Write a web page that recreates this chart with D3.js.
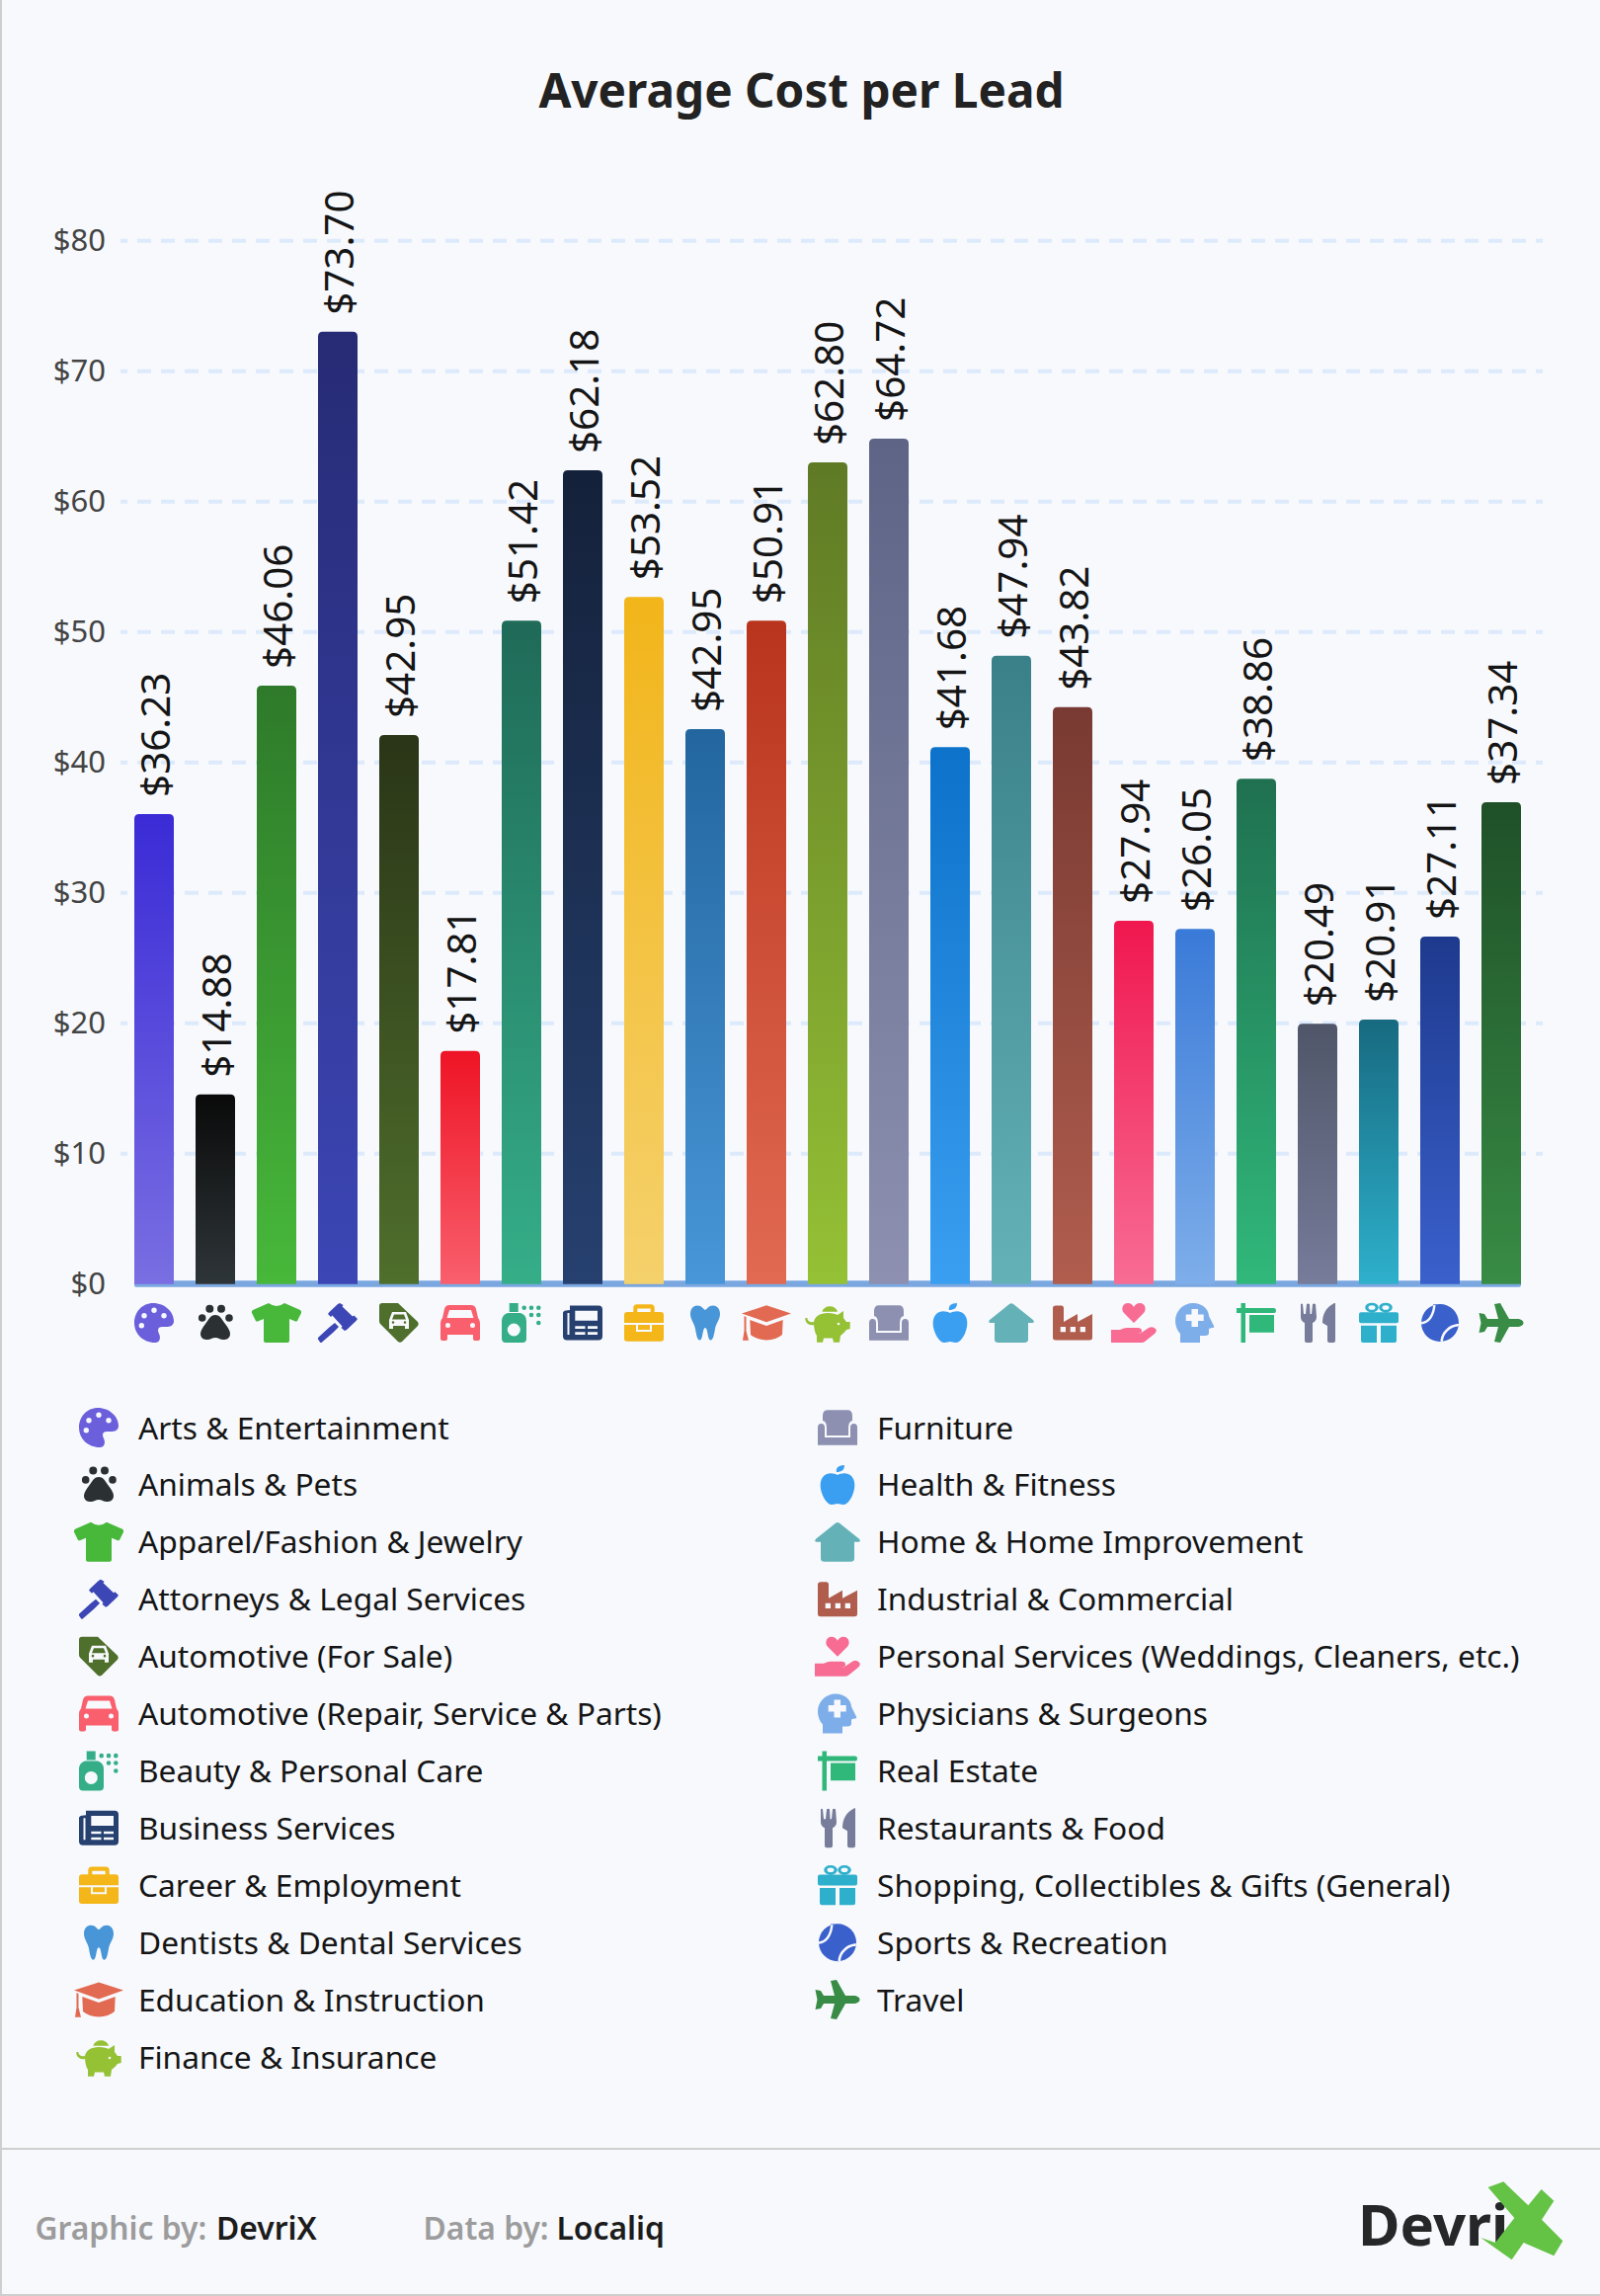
<!DOCTYPE html>
<html><head><meta charset="utf-8">
<script src="https://d3js.org/d3.v7.min.js"></script>
<style>html,body{margin:0;padding:0;background:#f7f9fd}svg{display:block}text{font-family:"Noto Sans",sans-serif}</style>
</head><body><svg id="c" width="1620" height="2324" viewBox="0 0 1620 2324"></svg>
<script>
const categories=["Arts & Entertainment","Animals & Pets","Apparel/Fashion & Jewelry","Attorneys & Legal Services","Automotive (For Sale)","Automotive (Repair, Service & Parts)","Beauty & Personal Care","Business Services","Career & Employment","Dentists & Dental Services","Education & Instruction","Finance & Insurance","Furniture","Health & Fitness","Home & Home Improvement","Industrial & Commercial","Personal Services (Weddings, Cleaners, etc.)","Physicians & Surgeons","Real Estate","Restaurants & Food","Shopping, Collectibles & Gifts (General)","Sports & Recreation","Travel"];
const labelValues=[36.23,14.88,46.06,73.70,42.95,17.81,51.42,62.18,53.52,42.95,50.91,62.80,64.72,41.68,47.94,43.82,27.94,26.05,38.86,20.49,20.91,27.11,37.34];
const barHeights=[36.04,14.54,45.89,73.02,42.10,17.87,50.87,62.40,52.69,42.56,50.87,63.00,64.83,41.17,48.17,44.23,27.86,27.24,38.75,19.96,20.28,26.64,36.95];
const topColors=["#3a2bd6","#0a0a0a","#2e7a2a","#272b75","#2a3517","#ee1425","#1f6a58","#14213a","#f2b51a","#23669f","#b9341c","#5f7a25","#5d6485","#0c72ca","#3a8088","#783a32","#f0174f","#3a7ad8","#1f7050","#505668","#176a80","#1e3a8e","#1f5028"];
const bottomColors=["#7a6ee2","#2e3538","#47b83a","#3c46b5","#4f6f2c","#f95f6d","#35ae88","#26406f","#f5d16c","#4896d8","#e26a52","#95c135","#8d90b0","#3a9ff0","#64b2b8","#b05d4e","#f86c94","#7eaeea","#30b87a","#767c9a","#2eb0cc","#3a60cc","#388c45"];
const iconColors=["#6b5fdc","#2b3033","#47b83a","#3c46b5","#4f6f2c","#f95f6d","#35ae88","#26406f","#f4b619","#4896d8","#e26a52","#95c135","#8d90b0","#3a9ff0","#64b2b8","#b05d4e","#f86c94","#7eaeea","#30b87a","#767c9a","#2eb0cc","#3a60cc","#388c45"];
const yTicks=[0,10,20,30,40,50,60,70,80];

const circ=(x,y,r)=>`M${x-r},${y}a${r},${r} 0 1,0 ${2*r},0a${r},${r} 0 1,0 ${-2*r},0Z`;
const ell=(x,y,rx,ry)=>`M${x-rx},${y}a${rx},${ry} 0 1,0 ${2*rx},0a${rx},${ry} 0 1,0 ${-2*rx},0Z`;
const box=(x,y,w,h)=>`M${x},${y}h${w}v${h}h${-w}Z`;
const iconPaths=[
"M-1,-20C11,-20 20,-11 20,-2C20,3 16,4 12,4L8,4C4,4 3,7 5,11C7,15 6,20 1,20C-11,20 -20,11 -20,0C-20,-11 -12,-20 -1,-20Z"+circ(-10,-7.3,2.7)+circ(0,-12.7,2.7)+circ(10,-7.3,2.7)+circ(-12.7,2.7,2.7),
circ(-13.3,-5,3.8)+circ(-5.7,-14.3,4)+circ(6,-14.3,4)+circ(14,-5,3.8)+"M0,-8C5,-8 7,-3 10,1C13,5 15,8 15,11C15,16 11,17 8,17C5,17 3,15 0,15C-3,15 -5,17 -8,17C-11,17 -15,16 -15,11C-15,8 -13,5 -10,1C-7,-3 -5,-8 0,-8Z",
"M-8,-20Q0,-14 8,-20L24,-13Q25.5,-12 25,-10L21,-2Q20,-1 18,-2L13,-4L13,18Q13,20 11,20L-11,20Q-13,20 -13,18L-13,-4L-18,-2Q-20,-1 -21,-2L-25,-10Q-25.5,-12 -24,-13Z",
"M2,-20L5.5,-18L4.5,-16.5L15,-6.5L16.5,-7.5L20,-4L18.5,-2L9,7L7,8L3.5,5L4.5,3.5L-5.5,-7.5L-7,-6L-10,-9L-8.5,-11L0,-19ZM-3,0L1,4L-5,10L-16,19.5Q-17,20.5 -18,19.5L-20,16.5Q-20.5,15 -19.5,14.5L-8,4Z",
"M-20,-17Q-20,-20 -17,-20L-1,-20L19,-1Q20.5,1 19,3L3,19Q1,20.5 -1,19L-19,1Q-20,0 -20,-2ZM-7,-11L7,-11L10,-3L10,6L6,6L6,3L-6,3L-6,6L-10,6L-10,-3ZM-5,-8.5L5,-8.5L7,-3.5L-7,-3.5Z"+circ(-6,-0.5,1.3)+circ(6,-0.5,1.3),
"M-11,-18L11,-18Q15,-18 16,-14L18,-5Q20,-3 20,0L20,16Q20,18 18,18L15,18Q13,18 13,16L13,12L-13,12L-13,16Q-13,18 -15,18L-18,18Q-20,18 -20,16L-20,0Q-20,-3 -18,-5L-16,-14Q-15,-18 -11,-18ZM-11,-13L11,-13L13.5,-5L-13.5,-5Z"+circ(-12.5,2.5,2.5)+circ(12.5,2.5,2.5),
"M-14,-10L-1,-10Q5,-8 5,-2L5,16Q5,20 1,20L-16,20Q-20,20 -20,16L-20,-2Q-20,-8 -14,-10Z"+circ(-7.7,7,6.5)+box(-12.3,-20,9,9)+circ(2.7,-15.3,2.3)+circ(10,-15.3,2.3)+circ(17.3,-15.3,2.3)+circ(10,-8,2.3)+circ(17.3,-8,2.3)+circ(17.3,0,2.3),
"M-13,-17.5L16,-17.5Q20,-17.5 20,-13.5L20,13.5Q20,17.5 16,17.5L-16,17.5Q-20,17.5 -20,13.5L-20,-10Q-20,-12 -17,-12.5L-13,-13Z"+box(-15.5,-10,2,22)+box(-7.7,-12.3,22.7,10)+box(-7.7,3.3,10.2,2.7)+box(5,3.3,10,2.7)+box(-7.7,9.3,10.2,2.7)+box(5,9.3,10,2.7),
"M-10.7,-15Q-10.7,-18.7 -7,-18.7L7,-18.7Q10.7,-18.7 10.7,-15L10.7,-11L17,-11Q20,-11 20,-8L20,16Q20,18.7 17,18.7L-17,18.7Q-20,18.7 -20,16L-20,-8Q-20,-11 -17,-11L-10.7,-11Z"+box(-6.7,-14.5,13.4,3.5)+"M-20,0L20,0L20,2L8,2L8,9L-8,9L-8,2L-20,2Z"+box(-6,2,12,5),
"M-8,-17.5C-3,-17.5 -2,-14 0,-13C2,-14 3,-17.5 8,-17.5C13,-17.5 15,-13 15,-9C15,-3 11,0 10,6C9,12 8,17.5 5.5,17.5C2,17.5 3,5 0,5C-3,5 -2,17.5 -5.5,17.5C-8,17.5 -9,12 -10,6C-11,0 -15,-3 -15,-9C-15,-13 -13,-17.5 -8,-17.5Z",
"M0,-17.7L25,-9.5L0,-0.7L-25,-9.5ZM-16.7,-3L0,3L16.7,-3L16,12Q10,17 0,17.5Q-10,17 -16,12ZM-22.5,-7L-20.5,-6L-20.5,8L-18,17.7L-24,17.7L-22.5,8Z",
"M-5.7,-11.3A8.4,8.4 0 0 1 10.1,-11.3ZM-14,0C-14,-6 -8,-10 0,-10C5,-10 8,-9 10,-8L16,-12L16,-5L19,-1L22.7,-1L22.7,6L19,7C17,10 14,12 13,13L12,19.7L6,19.7L5,15.5L-4,15.5L-5,19.7L-11,19.7L-11,13C-13,10 -14,5 -14,0Z"+circ(11,1,1.3)+"M-14,2C-19,3 -23,0 -22.7,-5L-20.7,-5C-20.5,-2 -18,0 -14,-1Z",
"M-10,-17.7L10,-17.7Q15,-17.7 15,-12L15,-7Q11,-6 11,0L11,8L-11,8L-11,0Q-11,-6 -15,-7L-15,-12Q-15,-17.7 -10,-17.7ZM-20,0Q-20,-4 -16.5,-4Q-13,-4 -13,0L-13,10L13,10L13,0Q13,-4 16.5,-4Q20,-4 20,0L20,17.7L-20,17.7Z",
"M-1,-13C-2,-17 1,-20 7,-20C7,-15 4,-13 -1,-13ZM0,-10C4,-12 10,-13 14,-9C18,-5 18,2 16,8C14,14 10,20 6,20C3,20 2,19 0,19C-2,19 -3,20 -6,20C-10,20 -14,14 -16,8C-18,2 -18,-5 -14,-9C-10,-13 -4,-12 0,-10Z",
"M-2,-19Q0,-20.5 2,-19L22,-3Q24,0 21,0L17,0L17,17Q17,20 13,20L-13,20Q-17,20 -17,17L-17,0L-21,0Q-24,0 -22,-3Z",
"M-20,-15Q-20,-17.5 -17,-17.5L-11,-17.5Q-9,-17.5 -9,-15L-9,-1L5,-9L5,-1L20,-9L20,15Q20,17.5 17,17.5L-17,17.5Q-20,17.5 -20,15Z"+box(-12.3,4,5.3,5.3)+box(-2.3,4,5.3,5.3)+box(7.7,4,5.3,5.3),
"M0,0L-10,-10C-13,-13 -12,-20 -6,-20C-3,-20 -1,-18 0,-16C1,-18 3,-20 6,-20C12,-20 13,-13 10,-10ZM-23,7L-14,7Q-10,5 -7,5L4,5Q8,5 8,8Q8,11 4,11L6,11L15,5Q19,3 22,6Q24,8 21,11L11,19Q10,20 8,20L-23,20Z",
"M-2,-20C8,-20 14,-13 14,-7L19,3Q20,5 17,5L14,6L14,10Q14,13 10,13L5,13L5,20L-15,20L-15,11C-18,8 -20,3 -20,-2C-20,-12 -12,-20 -2,-20ZM-3.5,-14L3,-14L3,-8.5L8.7,-8.5L8.7,-2L3,-2L3,4L-3.5,4L-3.5,-2L-9.3,-2L-9.3,-8.5L-3.5,-8.5Z",
box(-15.5,-20,4.5,5)+box(-15.5,-10,4.5,30)+"M-20,-15L18,-15Q20,-15 20,-12.5Q20,-10 18,-10L-20,-10Z"+box(-7,-8,25,17.7),
"M-17,-19Q-16,-20 -15,-19L-14,-9L-12,-9L-11,-19Q-9.5,-20 -8,-19L-7.5,-9L-6,-9L-5,-19Q-3.5,-20 -2,-19L-1,-6Q-1,-2 -5,0L-5,18Q-5,20 -7,20L-11,20Q-13,20 -13,18L-13,0Q-17,-2 -17,-6ZM17,-20L18,-20L18,18Q18,20 16,20L12,20Q10,20 10,18L10,3L5,0Q5,-14 17,-20Z",
ell(-7,-15.5,6.8,4.8)+ell(-7,-15.5,3.5,2.3)+ell(7,-15.5,6.8,4.8)+ell(7,-15.5,3.5,2.3)+"M-18,-10.7L18,-10.7Q20,-10.7 20,-8.7L20,-1.7Q20,0.3 18,0.3L-18,0.3Q-20,0.3 -20,-1.7L-20,-8.7Q-20,-10.7 -18,-10.7ZM-18,2.7L-2,2.7L-2,20L-16,20Q-18,20 -18,18ZM2,2.7L18,2.7L18,18Q18,20 16,20L2,20Z",
circ(0,0,19)+"M-19,-1C-12,-1 -7,-10 -7,-18.5L-4.5,-19C-4.5,-8 -11,1.5 -19,1.5ZM0.5,19C0.5,10 9,1 18.8,1L19,3.5C11,3.5 3,11 3,18.8Z",
"M-7,-19L-1,-20L8,-4L16,-4C20,-4 22.5,-2 22.5,0C22.5,2 20,4 16,4L8,4L-1,20L-7,19L-3,4L-14,4L-17,9L-22.5,10L-20.5,0L-22.5,-10L-17,-9L-14,-4L-3,-4Z"
];

const svg=d3.select("#c");
svg.append("rect").attr("width",1620).attr("height",2324).attr("fill","#f7f9fd");
const defs=svg.append("defs");
const x=d3.scaleBand().domain(categories).range([136,1540]).paddingInner(22/62).paddingOuter(0);
const y=d3.scaleLinear().domain([0,80]).range([1299.7,243.7]);

// frame + footer
svg.append("rect").attr("x",0).attr("y",0).attr("width",2).attr("height",2324).attr("fill","#cfcfcf");
svg.append("rect").attr("x",0).attr("y",2322).attr("width",1620).attr("height",2).attr("fill","#cfcfcf");
svg.append("rect").attr("x",0).attr("y",2174).attr("width",1620).attr("height",2).attr("fill","#cfcfcf");

svg.append("text").attr("x",811.5).attr("y",109).attr("text-anchor","middle").attr("font-size",47.7).attr("font-weight",700).attr("fill","#222").text("Average Cost per Lead");

// grid
svg.append("g").selectAll("line").data(yTicks.slice(1)).join("line")
 .attr("x1",122).attr("x2",1562).attr("y1",d=>y(d)).attr("y2",d=>y(d))
 .attr("stroke","#ddeafc").attr("stroke-width",4).attr("stroke-dasharray","14 10").attr("stroke-dashoffset",7);

// y axis
const yAxis=svg.append("g").attr("transform","translate(122,0)")
 .call(d3.axisLeft(y).tickValues(yTicks).tickSize(0).tickPadding(15).tickFormat(d=>"$"+d));
yAxis.select(".domain").remove();
yAxis.selectAll("text").attr("font-family",'"Noto Sans",sans-serif').attr("font-size",31).attr("fill","#444");

// baseline
svg.append("rect").attr("x",136).attr("y",y(0)-3.4).attr("width",1404).attr("height",6.4).attr("rx",2).attr("fill","#7aa7e0");

// bars
categories.forEach((c,i)=>{
 const g=defs.append("linearGradient").attr("id","g"+i).attr("x1",0).attr("y1",0).attr("x2",0).attr("y2",1);
 g.append("stop").attr("offset",0).attr("stop-color",topColors[i]);
 g.append("stop").attr("offset",1).attr("stop-color",bottomColors[i]);
});
const r=5;
svg.append("g").selectAll("path").data(categories).join("path")
 .attr("fill",(d,i)=>`url(#g${i})`)
 .attr("d",(d,i)=>{
  const p=d3.path(),x0=x(d),x1=x0+x.bandwidth(),t=y(barHeights[i]),b=y(0);
  p.moveTo(x0,b);p.lineTo(x0,t+r);p.quadraticCurveTo(x0,t,x0+r,t);
  p.lineTo(x1-r,t);p.quadraticCurveTo(x1,t,x1,t+r);p.lineTo(x1,b);p.closePath();
  return p.toString();
 });

// value labels
const fmt=d3.format("$.2f");
svg.append("g").selectAll("text").data(categories).join("text")
 .attr("transform",(d,i)=>`translate(${x(d)+x.bandwidth()/2+16},${y(barHeights[i])-17}) rotate(-90)`)
 .attr("font-size",40.4).attr("fill","#151515")
 .text((d,i)=>fmt(labelValues[i]));

// axis icons
const iconFill=(d,i)=>iconColors[i];
svg.append("g").selectAll("path").data(categories).join("path")
 .attr("transform",d=>`translate(${x(d)+x.bandwidth()/2},1339)`)
 .attr("fill-rule","evenodd").attr("fill",iconFill).attr("d",(d,i)=>iconPaths[i]);

// legend
const legendRow=d3.scalePoint().domain(d3.range(12)).range([1445,2082]);
const leg=svg.append("g").selectAll("g").data(categories).join("g")
 .attr("transform",(d,i)=>`translate(${i<12?100:848},${legendRow(i<12?i:i-12)})`);
leg.append("path").attr("fill-rule","evenodd").attr("fill",iconFill).attr("d",(d,i)=>iconPaths[i]);
leg.append("text").attr("x",40).attr("y",11.5).attr("font-size",31.7).attr("fill","#151515").text(d=>d);

// footer text
const foot=[["Graphic by:",35.5,"#9c9c9c"],["DevriX",219,"#1c1c1c"],["Data by:",428.5,"#9c9c9c"],["Localiq",563.5,"#1c1c1c"]];
svg.append("g").selectAll("text").data(foot).join("text")
 .attr("x",d=>d[1]).attr("y",2267).attr("font-size",31.8).attr("font-weight",600).attr("fill",d=>d[2]).text(d=>d[0]);

// logo
svg.append("text").attr("x",1375).attr("y",2273).attr("font-size",58).attr("font-weight",700).attr("fill","#252729").text("Devri");
svg.append("path").attr("transform","translate(1360,2190) scale(0.3333)").attr("fill","#64c244")
 .attr("d","M440,72L487,55L562,127L602,78L640,113L603,170L667,235L640,280L548,240L512,292L418,225L462,240L520,165Z");
</script></body></html>
